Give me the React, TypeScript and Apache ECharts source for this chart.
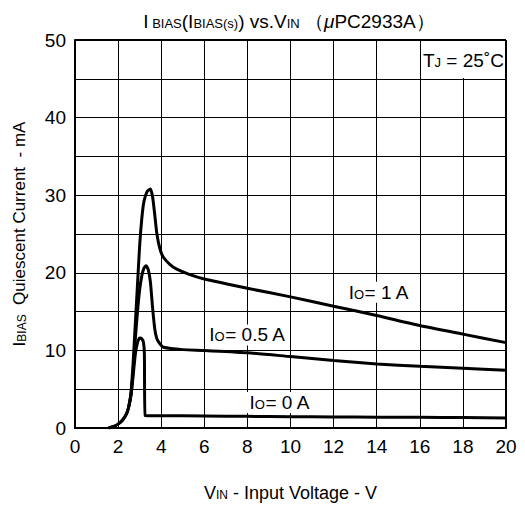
import React, { useEffect, useRef } from "react";
import * as echarts from "echarts";

const io0: [number, number][] = [
  [1.55, 0], [1.8, 0.2], [2.0, 0.5], [2.2, 1.0], [2.4, 1.9], [2.5, 2.8], [2.6, 4.2], [2.7, 6.8],
  [2.8, 9.5], [2.9, 11.0], [3.0, 11.6], [3.1, 11.5], [3.18, 11.0], [3.22, 9.5], [3.25, 1.6],
  [4, 1.58], [6, 1.55], [8, 1.5], [10, 1.45], [12, 1.42], [14, 1.4], [16, 1.37], [18, 1.35], [20, 1.3],
];
const io05: [number, number][] = [
  [1.55, 0], [1.8, 0.2], [2.0, 0.5], [2.2, 1.0], [2.4, 1.9], [2.5, 2.8], [2.6, 4.4], [2.7, 7.5],
  [2.8, 11.5], [2.9, 15.0], [3.0, 17.8], [3.1, 19.6], [3.2, 20.6], [3.3, 20.9], [3.4, 20.4],
  [3.5, 18.8], [3.6, 15.5], [3.7, 12.8], [3.8, 11.5], [3.95, 10.8], [4.1, 10.4], [5, 10.1],
  [6, 10.0], [8, 9.7], [10, 9.2], [12, 8.7], [14, 8.25], [16, 7.95], [18, 7.7], [20, 7.45],
];
const io1: [number, number][] = [
  [2.5, 2.8], [2.6, 4.6], [2.7, 8.5], [2.8, 13.5], [2.9, 18.5], [3.0, 23.5], [3.1, 27.0],
  [3.2, 29.2], [3.35, 30.5], [3.5, 30.8], [3.6, 29.8], [3.7, 27.5], [3.8, 25.0], [3.95, 23.0],
  [4.1, 22.0], [4.4, 21.1], [4.7, 20.5], [5.3, 19.8], [6, 19.2], [7, 18.6], [8, 18.0],
  [10, 16.9], [12, 15.7], [14, 14.5], [16, 13.2], [18, 12.1], [20, 11.0],
];

const xTicks = [0, 2, 4, 6, 8, 10, 12, 14, 16, 18, 20];
const yTicks = [0, 10, 20, 30, 40, 50];

const FONT = "Liberation Sans, Arial, sans-serif";
const FS = 19;

const rich = {
  a: { fontFamily: FONT, fontSize: FS, color: "#000", fontWeight: "normal" as const },
  s: { fontFamily: FONT, fontSize: 13, color: "#000", fontWeight: "normal" as const, padding: [4, 0, 0, 0] },
};
const richName = {
  a: { fontFamily: FONT, fontSize: 18, color: "#000", fontWeight: "normal" as const },
  s: { fontFamily: FONT, fontSize: 12, color: "#000", fontWeight: "normal" as const, padding: [4, 0, 0, 0] },
};
const richYName = {
  a: { fontFamily: FONT, fontSize: 17, color: "#000", fontWeight: "normal" as const },
  s: { fontFamily: FONT, fontSize: 12, color: "#000", fontWeight: "normal" as const, padding: [4, 0, 0, 0] },
};

function lbl(coord: [number, number], sub: string, rest: string) {
  return {
    coord,
    symbol: "rect",
    symbolSize: 1,
    itemStyle: { color: "rgba(0,0,0,0)" },
    label: {
      show: true,
      formatter: `{a|I}{s|${sub}}{a|${rest}}`,
      rich,
      backgroundColor: "#fff",
      padding: [1, 3, 1, 3],
      position: "inside",
    },
  };
}

// plot box in div coordinates (div starts at page 8,8)
const L = 67, T = 32, R = 498, B = 420;

export default function App() {
  const ref = useRef<HTMLDivElement>(null);
  useEffect(() => {
    const chart = echarts.init(ref.current!, null, { renderer: "svg" });
    chart.setOption({
      animation: false,
      backgroundColor: "#fff",
      title: {
        text: "{a|I}{s| BIAS}{a|(I}{s|BIAS(s)}{a|) vs.V}{s|IN}{a| （}{m|μ}{a|PC2933A）}",
        left: 276,
        textAlign: "center",
        top: -1,
        textStyle: {
          fontWeight: "normal",
          rich: {
            a: { fontFamily: FONT, fontSize: 19, color: "#000", fontWeight: "normal" },
            s: { fontFamily: FONT, fontSize: 13, color: "#000", fontWeight: "normal", padding: [4, 0, 0, 0] },
            m: { fontFamily: FONT, fontSize: 19, color: "#000", fontStyle: "italic", fontWeight: "normal" },
          },
        },
      },
      grid: { left: L, right: 517 - R, top: T, bottom: 500 - B, containLabel: false, outerBoundsMode: "none" },
      xAxis: {
        type: "value",
        min: 0,
        max: 20,
        interval: 2,
        axisLine: { show: true, lineStyle: { color: "#000", width: 2 } },
        axisTick: { show: false },
        splitLine: { show: true, lineStyle: { color: "#000", width: 1 } },
        axisLabel: {
          fontFamily: FONT, fontSize: FS, color: "#000", margin: 9,
          formatter: (v: number) => (xTicks.includes(v) ? String(v) : ""),
        },
        name: "{a|V}{s|IN}{a| - Input Voltage - V}",
        nameLocation: "middle",
        nameGap: 56,
        nameTextStyle: { rich: richName },
      },
      yAxis: {
        type: "value",
        min: 0,
        max: 50,
        interval: 5,
        axisLine: { show: true, lineStyle: { color: "#000", width: 2 } },
        axisTick: { show: false },
        splitLine: { show: true, lineStyle: { color: "#000", width: 1 } },
        axisLabel: {
          fontFamily: FONT, fontSize: FS, color: "#000", margin: 9,
          formatter: (v: number) => (yTicks.includes(v) ? String(v) : ""),
        },
        name: "{a|I}{s|BIAS}{a|  Quiescent Current  - mA}",
        nameLocation: "middle",
        nameRotate: 90,
        nameGap: 47,
        nameTextStyle: { rich: richYName },
      },
      graphic: [
        {
          type: "rect",
          shape: { x: 418, y: 33, width: 79, height: 37 },
          style: { fill: "#fff" },
          z: 10,
        },
        {
          type: "text",
          x: 415,
          y: 43,
          z: 11,
          style: {
            text: "{a|T}{s|J}{a| = 25˚C}",
            rich,
          },
        },
        {
          type: "line",
          shape: { x1: L, y1: T, x2: R, y2: T },
          style: { stroke: "#000", lineWidth: 2 },
          z: 12,
        },
        {
          type: "line",
          shape: { x1: R, y1: T, x2: R, y2: B },
          style: { stroke: "#000", lineWidth: 2 },
          z: 12,
        },
      ],
      series: [
        {
          type: "line", data: io0, showSymbol: false, smooth: 0.2,
          lineStyle: { color: "#000", width: 3 },
          markPoint: { data: [lbl([9.5, 3.3], "O", "= 0 A")] },
        },
        {
          type: "line", data: io05, showSymbol: false, smooth: 0.2,
          lineStyle: { color: "#000", width: 3 },
          markPoint: { data: [lbl([8.0, 12.0], "O", "= 0.5 A")] },
        },
        {
          type: "line", data: io1, showSymbol: false, smooth: 0.2,
          lineStyle: { color: "#000", width: 3 },
          markPoint: { data: [lbl([14.1, 17.5], "O", "= 1 A")] },
        },
      ],
    });
    return () => chart.dispose();
  }, []);
  return <div ref={ref} style={{ width: 517, height: 500 }} />;
}
